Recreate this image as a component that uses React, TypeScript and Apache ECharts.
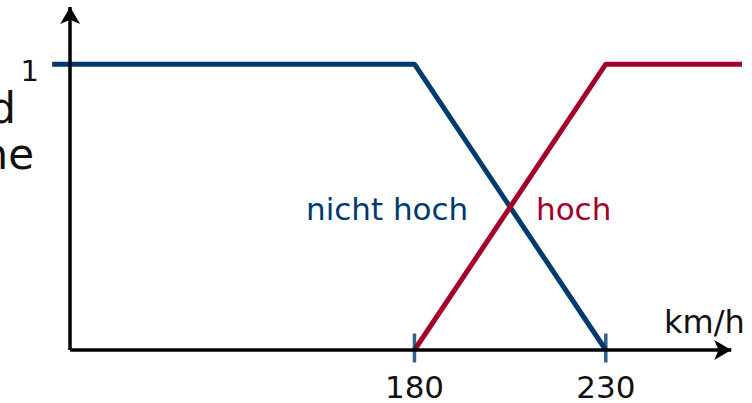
import React, { useEffect, useRef } from "react";
import * as echarts from "echarts";

const xTickValues = [180, 230];
const yTickLabels = ["1"];
const nichtHoch: [number, number][] = [
  [85.3, 1],
  [180, 1],
  [230, 0],
];
const hoch: [number, number][] = [
  [180, 0],
  [230, 1],
  [265.6, 1],
];
const tickMarks: [number, number][] = [
  [180, 0],
  [230, 0],
];
const axisOrigin: [number, number] = [90, 0];
const xAxisEnd = 262.8;
const yAxisEnd = 1.2;

const BLUE = "#003a6e";
const RED = "#a5002a";
const FONT = "DejaVu Sans";

export default function App() {
  const ref = useRef<HTMLDivElement>(null);
  useEffect(() => {
    if (!ref.current) return;
    const chart = echarts.init(ref.current, null, { renderer: "svg" });
    chart.setOption({
      animation: false,
      backgroundColor: "#ffffff",
      grid: { left: 51, right: 10, top: 7, bottom: 53 },
      xAxis: {
        type: "value",
        min: 85,
        max: 265.6,
        interval: 5,
        splitLine: { show: false },
        axisTick: { show: false },
        axisLine: { show: false },
        axisLabel: {
          showMinLabel: false,
          showMaxLabel: false,
          margin: 21,
          fontFamily: FONT,
          fontSize: 31,
          color: "#111",
          formatter: (v: number) => (xTickValues.includes(v) ? String(v) : ""),
        },
      },
      yAxis: {
        type: "value",
        min: 0,
        max: yAxisEnd,
        interval: 1,
        splitLine: { show: false },
        axisTick: { show: false },
        axisLine: { show: false },
        axisLabel: {
          showMaxLabel: false,
          margin: 12,
          verticalAlign: "top",
          lineHeight: 14,
          fontFamily: FONT,
          fontSize: 29,
          color: "#111",
          formatter: (v: number) => (v === 1 ? yTickLabels[0] : ""),
        },
      },
      series: [
        {
          type: "line",
          data: nichtHoch,
          symbol: "none",
          clip: false,
          lineStyle: { color: BLUE, width: 5 },
          z: 3,
        },
        {
          type: "line",
          data: hoch,
          symbol: "none",
          clip: false,
          lineStyle: { color: RED, width: 5 },
          z: 3,
        },
        {
          type: "scatter",
          data: tickMarks,
          symbol: "rect",
          symbolSize: [3.5, 29],
          symbolOffset: [0, -2],
          clip: false,
          itemStyle: { color: BLUE },
          z: 4,
          markLine: {
            silent: true,
            symbol: ["none", "arrow"],
            symbolSize: [15, 17],
            label: { show: false },
            lineStyle: { color: "#000", width: 3.5, type: "solid" },
            data: [
              [{ coord: axisOrigin }, { coord: [xAxisEnd, 0] }],
              [{ coord: axisOrigin }, { coord: [axisOrigin[0], yAxisEnd] }],
            ],
          },
        },
      ],
      graphic: [
        {
          type: "text",
          x: 306,
          y: 209,
          style: { text: "nicht hoch", fill: BLUE, font: `31px ${FONT}`, verticalAlign: "middle" },
        },
        {
          type: "text",
          x: 536,
          y: 209,
          style: { text: "hoch", fill: RED, font: `31px ${FONT}`, verticalAlign: "middle" },
        },
        {
          type: "text",
          x: 664,
          y: 322,
          style: { text: "km/h", fill: "#111", font: `32px ${FONT}`, verticalAlign: "middle" },
        },
        {
          type: "text",
          x: 16,
          y: 108,
          style: { text: "d", fill: "#111", font: `42px ${FONT}`, align: "right", verticalAlign: "middle" },
        },
        {
          type: "text",
          x: 34,
          y: 154,
          style: { text: "ne", fill: "#111", font: `42px ${FONT}`, align: "right", verticalAlign: "middle" },
        },
      ],
    });
    return () => chart.dispose();
  }, []);
  return (
    <div
      ref={ref}
      style={{ position: "fixed", left: 0, top: 0, width: 752, height: 403 }}
    />
  );
}
